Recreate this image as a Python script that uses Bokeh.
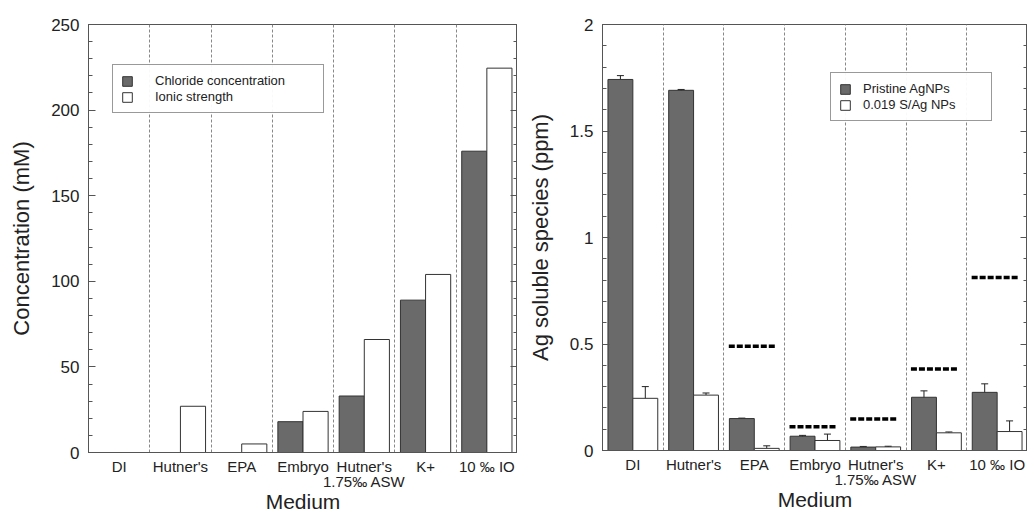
from bokeh.plotting import figure
from bokeh.layouts import row
from bokeh.models import (FixedTicker, LinearAxis, Range1d, Legend, LegendItem,
                          ColumnDataSource, Whisker)
from bokeh.embed import file_html
from bokeh.resources import INLINE

# ---------------- data ----------------
media = ["DI", "Hutner's", "EPA", "Embryo", "Hutner's\n1.75‰ ASW", "K+", "10 ‰ IO"]

chloride = [0, 0, 0, 18, 33, 89, 176]
ionic = [0, 27, 5, 24, 66, 104, 224.5]

pristine = [1.742, 1.691, 0.150, 0.067, 0.016, 0.250, 0.273]
pristine_err = [0.018, 0.004, 0.002, 0.004, 0.003, 0.030, 0.040]
sag = [0.245, 0.260, 0.010, 0.047, 0.017, 0.083, 0.089]
sag_err = [0.055, 0.010, 0.012, 0.030, 0.003, 0.004, 0.050]
ref_levels = [None, None, 0.490, 0.111, 0.148, 0.383, 0.812]

DARK = "#6a6a6a"
FRAME = "#555555"
FONT = "Liberation Sans"
TXT = "#222222"

idx = list(range(len(media)))
centers = [i + 0.5 for i in idx]


def style(p, ymax, major, minor_count, ylabel, ytick_fmt):
    p.x_range = Range1d(0, len(media))
    p.y_range = Range1d(0, ymax)
    p.outline_line_color = FRAME
    p.outline_line_width = 1
    p.xgrid.ticker = FixedTicker(ticks=[i for i in range(1, len(media))])
    p.xgrid.grid_line_color = "#888888"
    p.xgrid.grid_line_dash = "3 2"
    p.xgrid.grid_line_width = 1
    p.ygrid.grid_line_color = None

    xa = p.xaxis[0]
    xa.ticker = FixedTicker(ticks=centers)
    xa.major_label_overrides = {c: m for c, m in zip(centers, media)}
    xa.major_tick_line_color = None
    xa.minor_tick_line_color = None
    xa.major_tick_in = 0
    xa.major_tick_out = 0
    xa.axis_line_color = FRAME
    xa.major_label_text_font = FONT
    xa.major_label_text_font_size = "15px"
    xa.major_label_text_line_height = 0.9
    xa.major_label_text_color = TXT
    xa.major_label_standoff = 5
    xa.axis_label = "Medium"
    xa.axis_label_text_font = FONT
    xa.axis_label_text_font_size = "21px"
    xa.axis_label_text_font_style = "normal"
    xa.axis_label_text_color = TXT
    xa.axis_label_standoff = -3

    ya = p.yaxis[0]
    step = major / (minor_count + 1)
    ya.ticker = FixedTicker(ticks=[major * k for k in range(int(round(ymax / major)) + 1)],
                            minor_ticks=[step * k for k in range(int(round(ymax / step)) + 1)])
    ya.major_label_overrides = ytick_fmt
    ya.major_tick_in = 7
    ya.major_tick_out = 0
    ya.minor_tick_in = 4
    ya.minor_tick_out = 0
    ya.major_tick_line_color = FRAME
    ya.minor_tick_line_color = FRAME
    ya.axis_line_color = FRAME
    ya.major_label_text_font = FONT
    ya.major_label_text_font_size = "17px"
    ya.major_label_text_color = TXT
    ya.major_label_standoff = 9
    ya.axis_label = ylabel
    ya.axis_label_text_font = FONT
    ya.axis_label_text_font_size = "22px"
    ya.axis_label_text_font_style = "normal"
    ya.axis_label_text_color = TXT
    ya.axis_label_standoff = 14

    ra = LinearAxis(ticker=ya.ticker)
    ra.major_label_text_font_size = "0px"
    ra.major_label_text_color = None
    ra.major_tick_in = 7
    ra.major_tick_out = 0
    ra.minor_tick_in = 4
    ra.minor_tick_out = 0
    ra.major_tick_line_color = FRAME
    ra.minor_tick_line_color = FRAME
    ra.axis_line_color = FRAME
    ra.major_label_standoff = 0
    p.add_layout(ra, "right")


def legend(items, loc, standoff, lw):
    lg = Legend(items=items, location=loc)
    lg.label_text_font = FONT
    lg.label_text_font_size = "13px"
    lg.label_text_color = TXT
    lg.label_height = 14
    lg.glyph_height = 12
    lg.glyph_width = 12
    lg.spacing = 1
    lg.padding = 8
    lg.margin = 0
    lg.label_standoff = standoff
    lg.label_width = lw
    lg.border_line_color = "#333333"
    lg.border_line_width = 1.3
    return lg


# ---------------- left panel ----------------
BW = 0.41
left = figure(frame_width=429, frame_height=428, output_backend="svg", toolbar_location=None,
              min_border_left=88, min_border_top=22, min_border_bottom=0, min_border_right=0)
style(left, 250, 50, 4, "Concentration (mM)",
      {v: str(v) for v in range(0, 251, 50)})

srcL = ColumnDataSource(dict(xd=[c - BW / 2 for c in centers], xw=[c + BW / 2 for c in centers],
                             chl=chloride, ion=ionic))
r1 = left.vbar(x="xd", top="chl", width=BW, source=srcL, fill_color=DARK,
               line_color="#333333", line_width=1)
r2 = left.vbar(x="xw", top="ion", width=BW, source=srcL, fill_color="white",
               line_color="#333333", line_width=1)
left.add_layout(legend([LegendItem(label="Chloride concentration", renderers=[r1]),
                        LegendItem(label="Ionic strength", renderers=[r2])],
                       (24, 339), 22, 160))

# ---------------- right panel ----------------
right = figure(frame_width=425, frame_height=426, output_backend="svg", toolbar_location=None,
               min_border_left=85, min_border_top=24, min_border_bottom=0, min_border_right=0)
style(right, 2, 0.5, 4, "Ag soluble species (ppm)",
      {0: "0", 0.5: "0.5", 1: "1", 1.5: "1.5", 2: "2"})

srcR = ColumnDataSource(dict(
    xd=[c - BW / 2 for c in centers], xw=[c + BW / 2 for c in centers],
    pr=pristine, pr_lo=[v - e for v, e in zip(pristine, pristine_err)],
    pr_hi=[v + e for v, e in zip(pristine, pristine_err)],
    sg=sag, sg_lo=[v - e for v, e in zip(sag, sag_err)],
    sg_hi=[v + e for v, e in zip(sag, sag_err)]))
q1 = right.vbar(x="xd", top="pr", width=BW, source=srcR, fill_color=DARK,
                line_color="#333333", line_width=1)
q2 = right.vbar(x="xw", top="sg", width=BW, source=srcR, fill_color="white",
                line_color="#333333", line_width=1)
for base, lo, hi in (("xd", "pr_lo", "pr_hi"), ("xw", "sg_lo", "sg_hi")):
    w = Whisker(source=srcR, base=base, lower=lo, upper=hi, dimension="height",
                line_color=TXT, line_width=1)
    w.upper_head.size = 7
    w.lower_head.size = 7
    w.upper_head.line_color = TXT
    w.lower_head.line_color = TXT
    right.add_layout(w)

seg_x0 = [i + 0.08 for i, v in zip(idx, ref_levels) if v is not None]
seg_x1 = [i + 0.86 for i, v in zip(idx, ref_levels) if v is not None]
seg_y = [v for v in ref_levels if v is not None]
right.segment(x0=seg_x0, x1=seg_x1, y0=seg_y, y1=seg_y, line_color="black",
              line_width=3.5, line_dash="6 2")

right.add_layout(legend([LegendItem(label="Pristine AgNPs", renderers=[q1]),
                         LegendItem(label="0.019 S/Ag NPs", renderers=[q2])],
                        (228, 329), 12, 120))

layout = row(left, right)
open("out.html", "w").write(file_html(layout, INLINE))
